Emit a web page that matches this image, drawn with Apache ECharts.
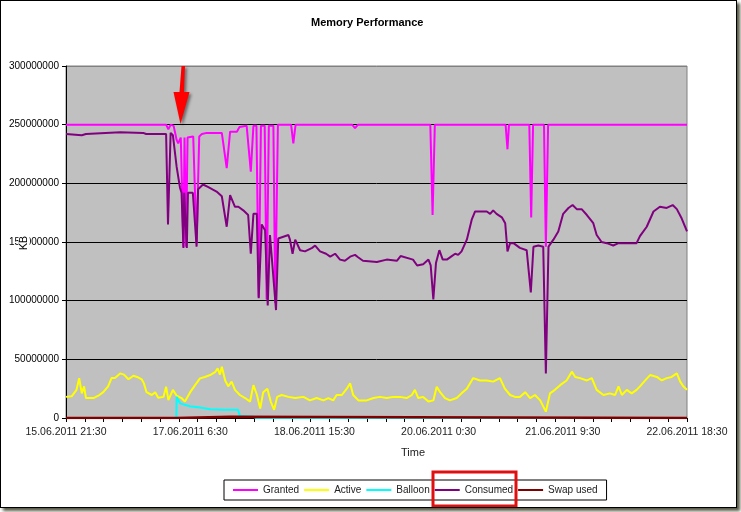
<!DOCTYPE html>
<html>
<head>
<meta charset="utf-8">
<script src="https://cdn.jsdelivr.net/npm/echarts@6/dist/echarts.min.js"></script>
<style>
  body { margin: 0; background: #fff; }
  #chart { position: absolute; left: 0; top: 0; width: 741px; height: 512px; }
  /* Rahmen mit Schatten wie im Screenshot */
  #frame {
    position: absolute; left: 0; top: 0; width: 735px; height: 506px;
    border: 1px solid #000; box-shadow: 3px 3px 3px rgba(70, 70, 50, 0.9);
    pointer-events: none;
  }
</style>
</head>
<body>
<div id="chart"></div>
<div id="frame"></div>
<script>
// x = Stunden ab 15.06.2011 21:30, y = Millionen KB
const timeLabels = ['15.06.2011 21:30', '17.06.2011 6:30', '18.06.2011 15:30', '20.06.2011 0:30', '21.06.2011 9:30', '22.06.2011 18:30'];
const seriesNames = ['Granted', 'Active', 'Balloon', 'Consumed', 'Swap used'];

const granted = [[0,250],[26.6,250],[27.2,246],[27.8,250],[28.6,249],[29.4,237],[29.8,234],[30.5,239],[31.2,146],[31.5,239],[31.9,146],[32.3,239],[33.8,240],[34.7,149],[35.4,240],[36.1,242],[37.4,243],[41.4,243],[42.7,213],[43.6,244],[45.4,244],[46.1,248],[48.0,249],[49.1,210],[49.8,249],[50.6,249],[51.2,103],[51.8,249],[52.8,249],[53.3,101],[53.9,249],[55.1,249],[55.6,98],[56.3,250],[59.8,250],[60.4,234],[61.0,250],[76.0,250],[76.8,247],[77.6,250],[96.8,250],[97.4,173],[98.0,250],[116.8,250],[117.3,229],[117.7,250],[123.1,250],[123.6,171],[124.1,250],[127.0,250],[127.5,146],[128.1,250],[165,250]];

const active = [[0,18],[1.5,18.5],[2.8,24],[3.5,34],[4.2,21],[4.8,27],[5.3,17],[7.3,17],[8.6,19],[9.9,22],[11.2,27],[12.1,34],[13.0,34],[14.4,38],[15.4,37],[16.6,33],[17.9,36],[18.9,35],[20.1,33],[20.7,29.5],[21.4,22],[22.8,19.6],[23.7,22],[24.5,17.3],[25.9,18],[26.6,26.7],[27.2,15.3],[28.4,24],[29.4,19],[30.7,17],[31.6,14],[33.0,22],[34.3,28],[35.6,33.8],[36.9,35],[38.3,36.6],[39.6,39],[40.3,42.3],[40.9,37],[41.4,43.7],[42.3,32],[43.1,27],[44.0,31],[44.9,24],[46.2,19.6],[47.6,17],[48.9,14],[49.8,28],[50.7,20],[51.6,8],[52.4,22],[53.5,25],[54.4,14],[55.3,7],[56.1,18],[57.3,19.6],[59.1,18],[60.9,17],[63.1,18],[64.8,15],[66.6,17],[68.4,15],[69.7,17],[71.0,15],[71.9,19.6],[73.3,19.6],[74.6,25],[75.5,29.5],[76.3,19.6],[77.7,15],[79.9,15],[81.7,17],[83.4,18],[85.2,17],[87.0,18],[88.7,18],[90.5,17],[91.9,19.6],[92.7,24],[93.6,17],[94.9,18],[96.3,14],[97.6,15],[98.5,26.7],[99.4,22],[100.7,17],[102.0,15],[103.8,17],[105.1,21],[106.5,25],[108.2,34],[110.0,32],[111.8,32],[113.5,31],[115.3,34],[116.6,25],[118.0,19.6],[119.3,18],[120.6,18],[122.0,22],[123.3,17],[124.6,19.6],[126.0,15],[127.5,5.4],[128.6,21],[129.9,24],[131.3,28],[133.0,32],[134.4,39.5],[135.3,35],[136.6,34],[138.4,32],[139.7,34],[141.0,24],[142.8,19.6],[144.5,21],[145.9,19.6],[146.8,27],[147.7,19.6],[149.0,24],[150.3,21],[151.6,24],[152.5,27],[153.9,32],[155.2,36.6],[157.0,35],[158.3,32],[159.6,34],[160.9,35],[162.3,38],[163.2,31],[164.0,27],[165,24]];

const balloon = [[0,0],[29.3,0],[29.4,18],[30.3,12.5],[32.9,10],[35.6,9],[38.3,7.4],[41.9,7],[45.7,7],[46.2,1.7],[49.8,1.1],[50.4,0],[165,0]];

const consumed = [[0,242],[4.2,241],[5.3,242],[14.4,243.5],[20.5,243],[21.3,242],[26.6,242],[27.1,165],[27.8,243],[28.4,241],[29.4,214],[30.3,196],[30.7,192],[31.2,145],[31.4,192],[32.1,145],[32.4,192],[33.7,192],[34.7,146],[35.1,195],[36.4,199],[37.7,197],[40.0,193],[41.4,189],[42.7,163],[43.6,190],[44.9,180],[45.8,180],[47.1,177],[48.4,173],[49.1,140],[49.8,174],[50.7,174],[51.2,102],[52.0,165],[52.9,160],[53.6,96],[54.2,156],[55.8,92],[56.4,153],[59.1,156],[59.5,152],[60.2,140],[60.9,152],[62.2,143],[63.5,142],[65.4,145],[66.2,147],[67.5,142],[69.1,140],[70.2,137.5],[71.5,140],[72.8,135],[74.1,134],[75.5,137.5],[76.8,139],[77.6,137],[78.9,134],[82.6,133],[85.2,135],[87.9,134],[88.9,138],[92.2,135],[93.3,130],[94.9,131],[96.3,135],[96.9,130],[97.6,101],[98.3,132],[99.2,143],[100.1,135],[101.2,135],[102.5,138],[103.4,140],[104.2,139],[105.1,142],[106.5,152],[107.8,169],[108.7,176],[111.8,176],[112.7,174],[113.5,177],[114.4,174],[115.8,171],[116.7,166],[117.3,142],[118.0,149],[118.9,149],[120.6,145],[122.4,143],[123.5,107],[124.2,146],[125.5,147],[126.8,146],[127.5,38],[128.2,146],[129.5,152],[130.8,159],[132.1,174],[133.5,179],[134.6,181.5],[135.7,178],[137.0,178],[138.4,173],[140.1,166],[141.0,156],[142.3,150],[143.7,149],[145.4,147],[146.8,149],[149.0,149],[151.6,149],[152.5,155],[154.3,163],[156.1,176],[157.8,180],[159.6,179],[161.2,181.5],[162.3,178],[163.6,170],[165,159]];

const swapUsed = [[0,0],[29.4,0],[29.5,1],[43.6,1],[43.7,0],[165,0]];

const colors = ['#ff00ff', '#ffff00', '#00ffff', '#800080', '#800000'];
const allData = [granted, active, balloon, consumed, swapUsed];

const font = 'Arial, "Liberation Sans", sans-serif';

let myChart = echarts.init(document.getElementById('chart'));

let option = {
    animation: false,
    title: {
        text: 'Memory Performance',
        left: 306,
        top: 12,
        textStyle: { fontSize: 11, fontWeight: 'bold', color: '#000', fontFamily: font },
    },
    grid: {
        left: 66, top: 66, right: 54, bottom: 94,
        outerBoundsMode: 'none',
        containLabel: false,
        show: true,
        backgroundColor: '#c0c0c0',
        borderColor: '#808080',
        borderWidth: 1,
    },
    legend: {
        data: seriesNames,
        left: 224,
        top: 480,
        icon: 'rect',
        itemWidth: 25,
        itemHeight: 2,
        itemGap: 5,
        padding: [5, 9],
        borderColor: '#000',
        borderWidth: 1,
        backgroundColor: '#fff',
        textStyle: { fontSize: 10, color: '#222', fontFamily: font },
    },
    xAxis: [
        {
            // Ticks alle 5 Stunden
            type: 'value',
            min: 0,
            max: 165,
            interval: 5,
            axisLine: { show: true, lineStyle: { color: '#000' } },
            axisTick: { show: true, length: 4, lineStyle: { color: '#000' } },
            axisLabel: { show: false },
            splitLine: { show: false },
        },
        {
            // Beschriftung alle 33 Stunden
            type: 'value',
            position: 'bottom',
            min: 0,
            max: 165,
            interval: 33,
            axisLine: { show: false },
            axisTick: { show: false },
            axisLabel: {
                margin: 9,
                fontSize: 10.5,
                color: '#222',
                fontFamily: font,
                formatter: (v) => timeLabels[Math.round(v / 33)] || '',
            },
            splitLine: { show: false },
        },
    ],
    yAxis: {
        type: 'value',
        min: 0,
        max: 300000000,
        interval: 50000000,
        axisLine: { show: true, lineStyle: { color: '#000' } },
        axisTick: { show: true, length: 4, lineStyle: { color: '#000' } },
        axisLabel: {
            margin: 7,
            fontSize: 10,
            color: '#000',
            fontFamily: font,
            formatter: (v) => String(v),
        },
        splitLine: {
            show: true,
            lineStyle: { color: ['#000', '#000', '#000', '#000', '#000', '#000', '#808080'], width: 1 },
        },
    },
    series: seriesNames.map((name, i) => ({
        type: 'line',
        name: name,
        xAxisIndex: 0,
        data: allData[i].map((p) => [p[0], p[1] * 1000000]),
        showSymbol: false,
        symbol: 'none',
        color: colors[i],
        lineStyle: { color: colors[i], width: i === 4 ? 2.5 : 2 },
    })),
    graphic: [
        {
            // Achsentitel KB, liegt im Original über der Beschriftung
            type: 'text',
            x: 24,
            y: 243,
            rotation: Math.PI / 2,
            z: 50,
            style: {
                text: 'KB', fontSize: 10.5, fill: '#000', fontFamily: font,
                align: 'center', verticalAlign: 'middle',
                backgroundColor: '#fff', padding: [0, 1],
            },
        },
        {
            type: 'text',
            left: 401,
            top: 447,
            style: { text: 'Time', fontSize: 11, fill: '#222', fontFamily: font },
        },
        {
            // roter Pfeil
            type: 'polygon',
            shape: { points: [[181.5, 66], [185, 66], [184, 92], [189.5, 92], [180.5, 124], [173.5, 92], [179.5, 92]] },
            style: { fill: '#ff0000', shadowBlur: 3, shadowColor: 'rgba(0,0,0,0.45)', shadowOffsetX: 2, shadowOffsetY: 2 },
            z: 100,
        },
        {
            // rote Markierung um "Consumed"
            type: 'rect',
            shape: { x: 433, y: 472, width: 83, height: 34 },
            style: { fill: 'none', stroke: '#e01010', lineWidth: 3 },
            z: 100,
        },
    ],
};
myChart.setOption(option);
</script>
</body>
</html>
